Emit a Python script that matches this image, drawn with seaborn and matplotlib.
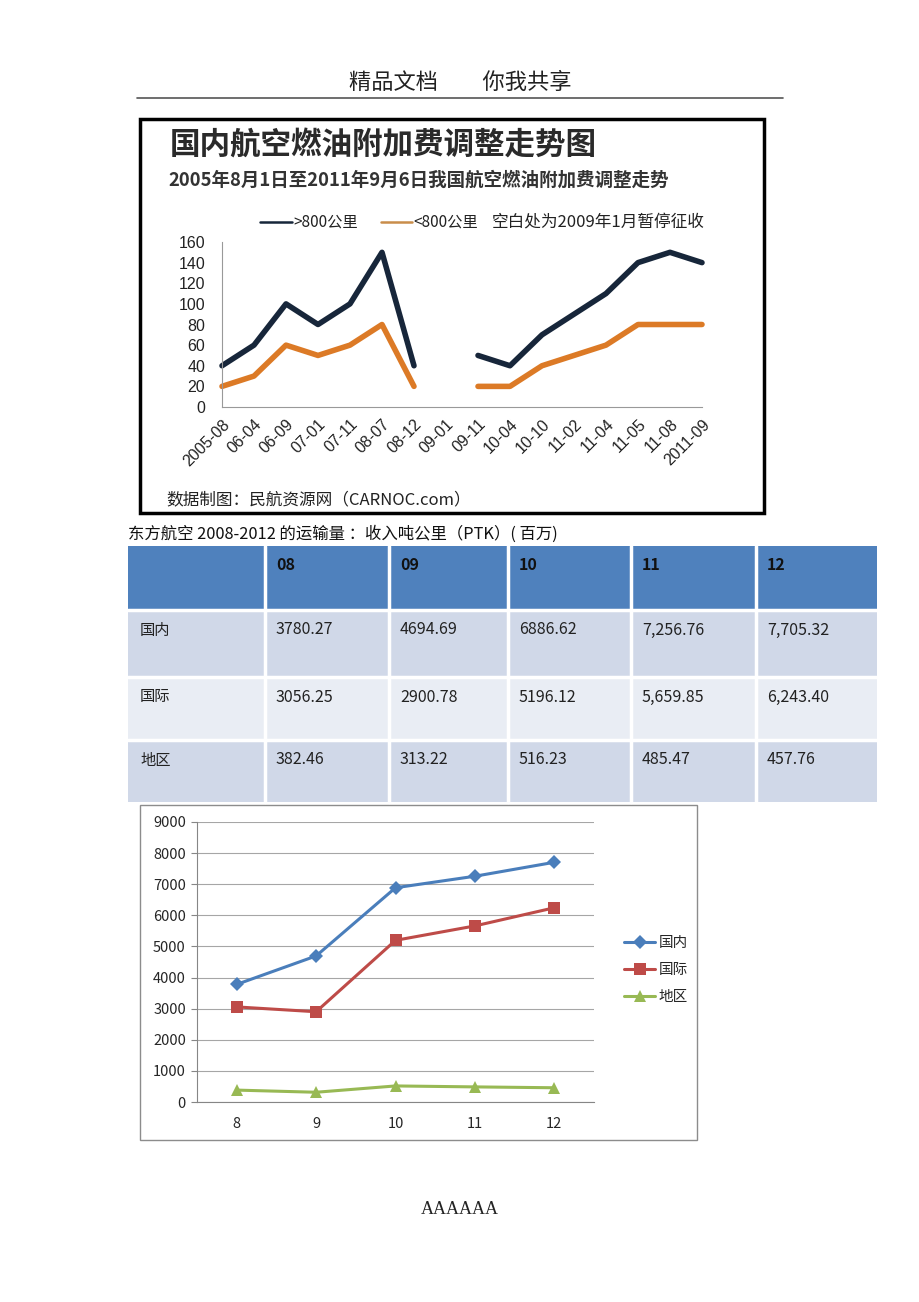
import numpy as np
import pandas as pd
import seaborn as sns
import matplotlib.pyplot as plt
from matplotlib.patches import Rectangle

W, H = 920, 1302

#%% data
fuel_dates = ["2005-08", "06-04", "06-09", "07-01", "07-11", "08-07", "08-12", "09-01",
              "09-11", "10-04", "10-10", "11-02", "11-04", "11-05", "11-08", "2011-09"]
over_800 = [40, 60, 100, 80, 100, 150, 40, np.nan, 50, 40, 70, 90, 110, 140, 150, 140]
under_800 = [20, 30, 60, 50, 60, 80, 20, np.nan, 20, 20, 40, 50, 60, 80, 80, 80]

years = ["08", "09", "10", "11", "12"]
year_ticks = [8, 9, 10, 11, 12]
row_names = ["国内", "国际", "地区"]
domestic = [3780.27, 4694.69, 6886.62, 7256.76, 7705.32]
international = [3056.25, 2900.78, 5196.12, 5659.85, 6243.40]
regional = [382.46, 313.22, 516.23, 485.47, 457.76]

navy = "#17263a"
orange = "#dc7a26"
ptk_colors = {"国内": "#4a7ebb", "国际": "#be4b48", "地区": "#98b954"}
ptk_markers = {"国内": "D", "国际": "s", "地区": "^"}
ptk_sizes = {"国内": 7, "国际": 8.5, "地区": 8.5}

sns.set_style("white")
plt.rcParams["font.family"] = ["Noto Sans CJK SC", "DejaVu Sans"]
plt.rcParams["axes.unicode_minus"] = False
narrow = ["Liberation Sans Narrow", "Liberation Sans"]


def rect(l, t, r, b):
    return [l / W, 1 - b / H, (r - l) / W, (b - t) / H]


fig = plt.figure(figsize=(W / 100, H / 100), dpi=100)

# page layer in pixel coords
page = fig.add_axes([0, 0, 1, 1])
page.set_xlim(0, W)
page.set_ylim(H, 0)
page.axis("off")

page.text(460, 82, "精品文档　　你我共享", ha="center", va="center", fontsize=16, color="#222222")
page.plot([137, 783], [98, 98], color="#555555", lw=1.2)

#%% fuel surcharge chart
page.add_patch(Rectangle((140, 119), 624, 394, fill=False, ec="black", lw=2.5))
page.text(170, 145, "国内航空燃油附加费调整走势图", fontsize=22, fontweight="bold",
          va="center", color="#2a2a2a")
page.text(168, 180, "2005年8月1日至2011年9月6日我国航空燃油附加费调整走势", fontsize=13.3,
          fontweight="bold", va="center", color="#333333")
page.plot([260, 292], [222, 222], color=navy, lw=1.8)
page.text(293, 222, ">800公里", va="center", fontsize=11, color="#222222")
page.plot([381, 412], [222, 222], color="#c98d4a", lw=1.8)
page.text(413, 222, "<800公里", va="center", fontsize=11, color="#222222")
page.text(492, 222, "空白处为2009年1月暂停征收", va="center", fontsize=12, color="#222222")
page.text(166, 500, "数据制图：民航资源网（CARNOC.com）", va="center", fontsize=12, color="#222222")

rows = []
for name, vals in [(">800", over_800), ("<800", under_800)]:
    seg = 0
    for i, v in enumerate(vals):
        if np.isnan(v):
            seg += 1
            continue
        rows.append({"pos": i, "value": v, "series": name, "seg": seg})
fuel_df = pd.DataFrame(rows)

ax1 = fig.add_axes(rect(222, 242, 702, 407))
ax1.set_facecolor("none")
sns.lineplot(data=fuel_df, x="pos", y="value", hue="series", units="seg", estimator=None,
             palette={">800": navy, "<800": orange}, lw=4, legend=False, sort=False,
             solid_capstyle="round", solid_joinstyle="round", clip_on=False, ax=ax1)
ax1.set_xlim(0, 15)
ax1.set_ylim(0, 160)
ax1.set_yticks(range(0, 161, 20))
ax1.set_xticks(range(len(fuel_dates)))
ax1.set_xticklabels(fuel_dates, rotation=45, ha="right", rotation_mode="anchor")
ax1.tick_params(axis="x", direction="in", length=4, color="#888888", labelsize=11.5, pad=7)
ax1.tick_params(axis="y", length=0, labelsize=11.5, pad=12)
for lbl in ax1.get_xticklabels() + ax1.get_yticklabels():
    lbl.set_family(narrow)
    lbl.set_color("#222222")
for s in ["top", "right"]:
    ax1.spines[s].set_visible(False)
for s in ["left", "bottom"]:
    ax1.spines[s].set_color("#999999")
ax1.set_xlabel("")
ax1.set_ylabel("")

#%% table
page.text(128, 534, "东方航空 2008-2012 的运输量 ：收入吨公里（PTK）( 百万)", va="center",
          fontsize=11.8, color="#111111")
col_edges = [128, 265, 389, 508, 631, 756, 877]
row_edges = [546, 610, 677, 740, 802]
fills = ["#4f81bd", "#d0d8e8", "#e9edf4", "#d0d8e8"]
for i in range(4):
    page.add_patch(Rectangle((col_edges[0], row_edges[i]), col_edges[-1] - col_edges[0],
                             row_edges[i + 1] - row_edges[i], fc=fills[i], ec="none"))
for x in col_edges[1:-1]:
    page.plot([x, x], [row_edges[0], row_edges[-1]], color="white", lw=2.5)
for y in row_edges[1:-1]:
    page.plot([col_edges[0], col_edges[-1]], [y, y], color="white", lw=2.5)

for c, yr in enumerate(years):
    page.text(col_edges[c + 1] + 11, row_edges[0] + 19, yr, va="center", fontsize=11.5,
              fontweight="bold", color="#111111")
for r, (name, vals) in enumerate(zip(row_names, [domestic, international, regional])):
    y = row_edges[r + 1] + 20
    page.text(140, y, name, va="center", fontsize=11, color="#222222")
    for c, v in enumerate(vals):
        txt = f"{v:,.2f}" if int(years[c]) >= 11 else f"{v:.2f}"
        page.text(col_edges[c + 1] + 11, y, txt, va="center", fontsize=11.5, color="#222222")

#%% PTK line chart
page.add_patch(Rectangle((140, 805), 557, 335, fill=False, ec="#8c8c8c", lw=1))

ptk_df = pd.DataFrame({
    "pos": list(range(5)) * 3,
    "value": domestic + international + regional,
    "series": [n for n in row_names for _ in range(5)],
})

ax2 = fig.add_axes(rect(197, 822, 594, 1102))
sns.lineplot(data=ptk_df, x="pos", y="value", hue="series", style="series",
             hue_order=row_names, style_order=row_names, palette=ptk_colors,
             markers=ptk_markers, dashes=False, lw=2.2, markeredgewidth=0,
             legend=False, clip_on=False, ax=ax2)
for line, name in zip(ax2.lines, row_names):
    line.set_markersize(ptk_sizes[name])
ax2.set_xlim(-0.5, 4.5)
ax2.set_ylim(0, 9000)
ax2.set_yticks(range(0, 9001, 1000))
ax2.set_xticks(range(5))
ax2.set_xticklabels(year_ticks)
ax2.set_xticks(np.arange(-0.5, 5, 1), minor=True)
ax2.tick_params(axis="x", which="major", length=0, labelsize=10.5, pad=11)
ax2.tick_params(axis="x", which="minor", length=5, color="#868686", direction="out")
ax2.tick_params(axis="y", length=4, color="#868686", labelsize=10.5, pad=4, left=True)
ax2.yaxis.grid(True, color="#a6a6a6", lw=0.8)
ax2.set_axisbelow(True)
for s in ["top", "right"]:
    ax2.spines[s].set_visible(False)
for s in ["left", "bottom"]:
    ax2.spines[s].set_color("#868686")
ax2.set_xlabel("")
ax2.set_ylabel("")
ax2.legend(handles=ax2.lines[:3], labels=row_names, loc="center left",
           bbox_to_anchor=(1.043, 0.471), frameon=False, fontsize=10.5,
           handlelength=2.1, labelspacing=0.9, handletextpad=0.25)

page.text(460, 1210, "AAAAAA", ha="center", va="center", fontsize=13,
          family=["Liberation Serif", "DejaVu Serif"], color="#222222")

fig.savefig("out.png", dpi=100)
